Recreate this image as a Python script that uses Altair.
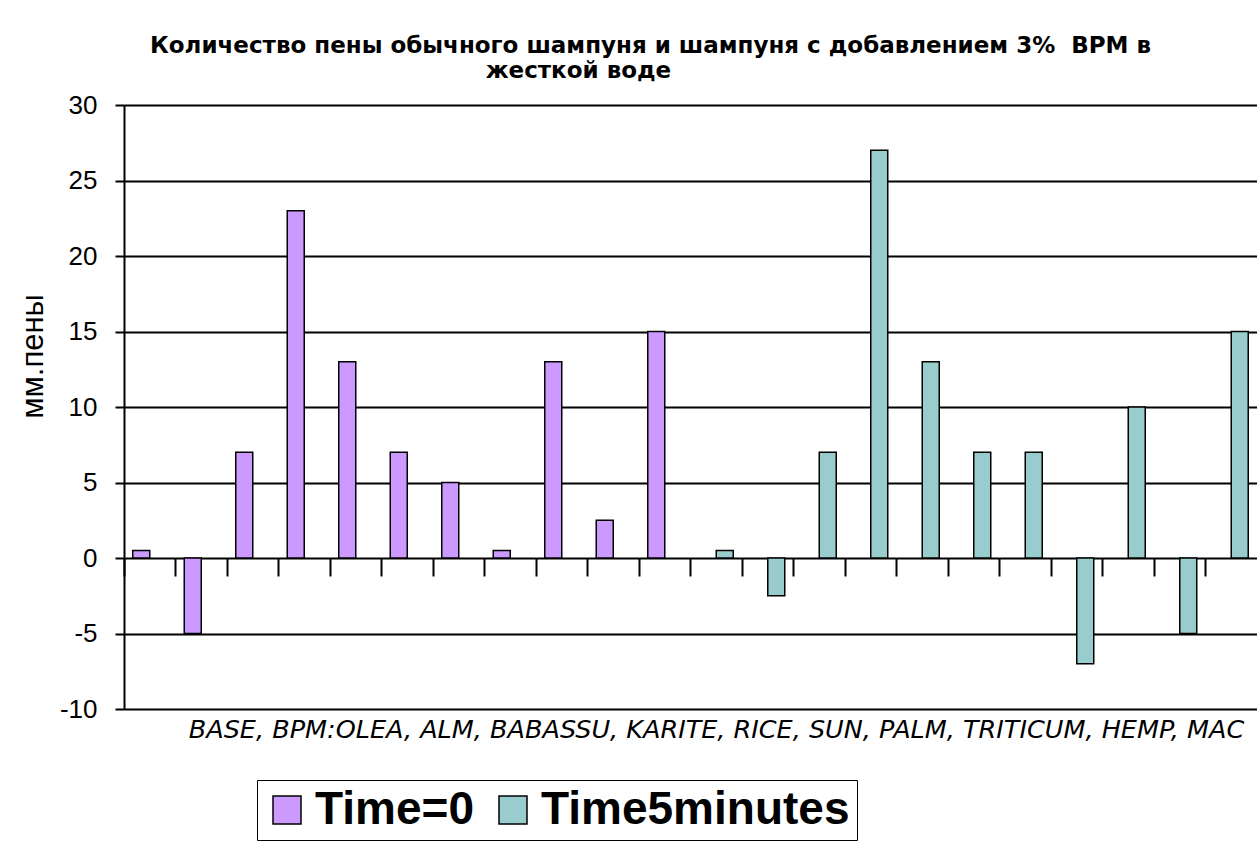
import altair as alt
import pandas as pd

# Shampoos tested (same order in both series)
names = ["BASE", "BPM:OLEA", "ALM", "BABASSU", "KARITE", "RICE", "SUN", "PALM", "TRITICUM", "HEMP", "MAC"]
series = ["Time=0", "Time5minutes"]
# Foam height, mm
time0 = [0.5, -5, 7, 23, 13, 7, 5, 0.5, 13, 2.5, 15]
time5 = [0.5, -2.5, 7, 27, 13, 7, 7, -7, 10, -5, 15]
colors = ["#CC99FF", "#99CCCC"]
y_ticks = [-10, -5, 0, 5, 10, 15, 20, 25, 30]

title_line1 = "Количество пены обычного шампуня и шампуня с добавлением 3%\u00a0 BPM в"
# second line sits left of centre: pad it with non-breaking spaces
title_line2 = "жесткой воде" + "\u00a0" * 18 + "\u200b"

rows = []
for s, vals in zip(series, [time0, time5]):
    for n, v in zip(names, vals):
        rows.append({"slot": f"{s} {n}", "series": s, "value": v})
df = pd.DataFrame(rows)
slots = list(df["slot"])

FONT = "Liberation Sans"
WIDE = "DejaVu Sans"

chart = alt.Chart(df).mark_bar(stroke="black", strokeWidth=1.5).encode(
    x=alt.X(
        "slot:N",
        sort=slots,
        scale=alt.Scale(paddingInner=0, paddingOuter=0),
        axis=alt.Axis(
            title=", ".join(names),
            labels=False,
            domain=False,
            bandPosition=0,
            tickSize=18,
            tickWidth=2,
            tickColor="black",
            offset=-151,
            titleFont=WIDE,
            titleFontSize=25.5,
            titleFontStyle="italic",
            titleFontWeight="normal",
            titleColor="black",
            titleX=592,
            titleY=179,
            titleAlign="center",
            titleBaseline="alphabetic",
        ),
    ),
    xOffset=alt.XOffset(
        "series:N",
        sort=series,
        scale=alt.Scale(domain=series, paddingInner=0, paddingOuter=0.515),
    ),
    y=alt.Y(
        "value:Q",
        scale=alt.Scale(domain=[-10, 30], nice=False, zero=False),
        axis=alt.Axis(
            values=y_ticks,
            labelExpr="'' + datum.value",
            title="мм.пены",
            grid=True,
            gridColor="black",
            gridWidth=2,
            gridOpacity=1,
            domainColor="black",
            domainWidth=2,
            tickColor="black",
            tickWidth=2,
            tickSize=9,
            labelFont=FONT,
            labelFontSize=26,
            labelColor="black",
            labelPadding=18,
            labelFlush=False,
            labelOverlap=False,
            titleFont=FONT,
            titleFontSize=31,
            titleFontWeight="normal",
            titleColor="black",
            titleAngle=270,
            titleX=-91,
            titleY=251,
            titleAlign="center",
            titleBaseline="middle",
        ),
    ),
    color=alt.Color(
        "series:N",
        sort=series,
        scale=alt.Scale(domain=series, range=colors),
        legend=alt.Legend(
            title=None,
            orient="none",
            legendX=133,
            legendY=675,
            direction="horizontal",
            strokeColor="black",
            fillColor="white",
            padding=7,
            symbolType="square",
            symbolSize=784,
            symbolStrokeColor="black",
            symbolStrokeWidth=1.5,
            symbolOpacity=1,
            labelFont=FONT,
            labelFontSize=46,
            labelFontWeight="bold",
            labelColor="black",
            labelOffset=5,
            labelLimit=0,
            columnPadding=16,
        ),
    ),
).properties(
    width=1133,
    height=604,
    autosize=alt.AutoSizeParams(type="none"),
    padding={"left": 124, "top": 105, "right": 0, "bottom": 140},
    title=alt.TitleParams(
        text=title_line1,
        subtitle=title_line2,
        anchor="middle",
        dx=-40,
        offset=9,
        font=WIDE,
        fontSize=23,
        fontWeight="bold",
        color="black",
        subtitleFont=WIDE,
        subtitleFontSize=23,
        subtitleFontWeight="bold",
        subtitleColor="black",
        subtitlePadding=2,
    ),
).configure_view(stroke="transparent").configure(background="white")

chart.save("out.html", embed_options={"renderer": "svg", "actions": False})
